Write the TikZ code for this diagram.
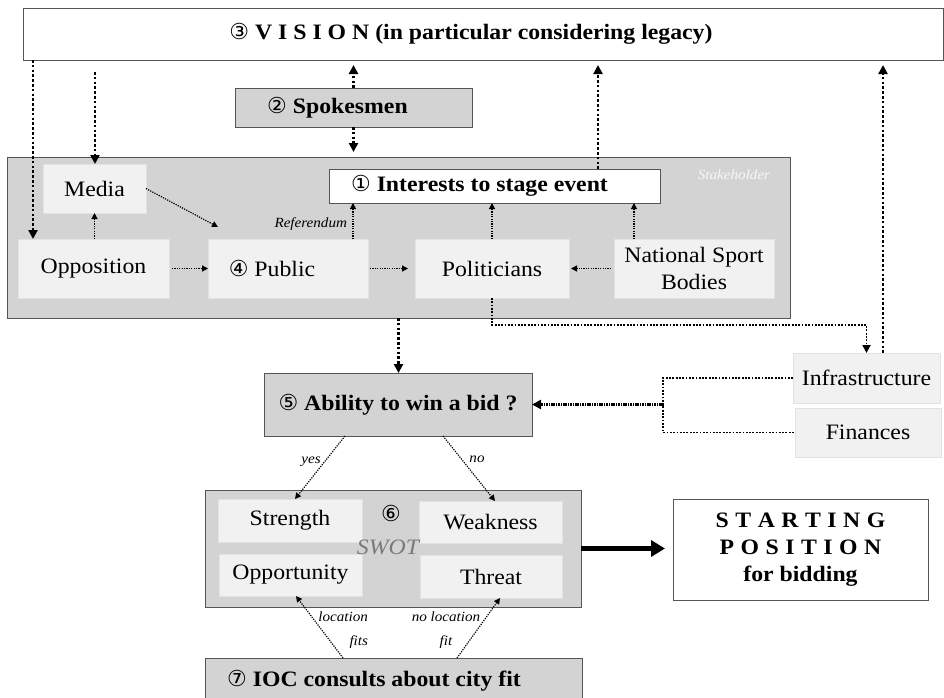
\documentclass[tikz,border=0pt]{standalone}
\usepackage{fontspec}
\setmainfont{Liberation Serif}[FakeStretch=1.08]
\newfontfamily\circfont{DejaVu Sans}
\usetikzlibrary{arrows.meta,calc}
\definecolor{boxgray}{HTML}{D3D3D3}
\definecolor{lightfill}{HTML}{F1F1F1}
\definecolor{edgecol}{HTML}{555555}
\definecolor{lightedge}{HTML}{E2E2E2}
\newcommand\cn[1]{{\circfont\mdseries\fontsize{22}{22}\selectfont #1}}
\newcommand\ls{\hspace{6.5pt}}
\begin{document}
\begin{tikzpicture}[x=1pt,y=-1pt,
  every node/.style={font=\fontsize{22}{27}\selectfont, inner sep=0pt, outer sep=0pt},
  boldtxt/.style={font=\bfseries\fontsize{22}{27}\selectfont},
  smallit/.style={font=\itshape\fontsize{14}{24}\selectfont},
  graybox/.style={draw=edgecol, fill=boxgray, line width=0.9pt},
  whitebox/.style={draw=edgecol, fill=white, line width=0.9pt},
  lightbox/.style={draw=lightedge, fill=lightfill, line width=0.6pt},
  thickdot/.style={line width=2.6pt, dash pattern=on 2.6pt off 2.2pt, -{Triangle[length=9pt,width=9pt]}},
  meddot/.style={line width=1.8pt, dash pattern=on 1.8pt off 1.5pt},
  medarrow/.style={meddot, -{Triangle[length=8pt,width=8pt]}},
  densearrow/.style={line width=2.2pt, dash pattern=on 1.6pt off 0.8pt, -{Triangle[length=9pt,width=9pt]}},
  thindot/.style={line width=1.2pt, dash pattern=on 1.2pt off 1.2pt, -{Triangle[length=6pt,width=6pt]}}
]
\useasboundingbox (0,0) rectangle (944,697);

% top
\node[whitebox, boldtxt, minimum width=920pt, minimum height=52pt] (vision) at (483,34)
  {\cn{③} V I S I O N (in particular considering legacy)\hspace*{24pt}};
\node[graybox, boldtxt, minimum width=237pt, minimum height=39pt] (spk) at (353.5,107.5)
  {\cn{②} Spokesmen\hspace*{32pt}};

% stakeholder
\node[graybox, minimum width=783pt, minimum height=161pt] (stake) at (398.5,237.5) {};
\node[smallit, text=white!85!boxgray] (stklab) at (734,175) {Stakeholder};
\node[lightbox, minimum width=103pt, minimum height=49pt] (media) at (94.5,188.5) {Media};
\node[lightbox, minimum width=151pt, minimum height=59pt] (opp) at (93.5,268.5) {Opposition};
\node[lightbox, minimum width=160pt, minimum height=59pt] (pub) at (288,268.5) {\cn{④} Public\hspace*{32pt}};
\node[lightbox, minimum width=154pt, minimum height=59pt] (pol) at (492,268.5) {Politicians};
\node[lightbox, minimum width=160pt, minimum height=59pt, align=center] (nsb) at (694,268.5) {National Sport\\Bodies};
\node[whitebox, boldtxt, minimum width=331pt, minimum height=34pt] (ints) at (494.5,186)
  {\cn{①} Interests to stage event\hspace*{30pt}};

% ability
\node[graybox, boldtxt, minimum width=268pt, minimum height=63pt] (abil) at (398,404.5) {\cn{⑤}\ Ability to win a bid ?};
\node[lightbox, minimum width=147pt, minimum height=50pt] (infra) at (866.5,378) {Infrastructure};
\node[lightbox, minimum width=146pt, minimum height=49pt] (fin) at (868,432.5) {Finances};

% swot
\node[graybox, minimum width=376pt, minimum height=117pt] (swot) at (393,548.5) {};
\node[lightbox, minimum width=144pt, minimum height=43pt] (str) at (290,520.5) {Strength};
\node[lightbox, minimum width=143pt, minimum height=42pt] (weak) at (490.5,522) {Weakness};
\node[lightbox, minimum width=143pt, minimum height=42pt] (oppt) at (290.5,575) {Opportunity};
\node[lightbox, minimum width=142pt, minimum height=43pt] (thr) at (491,576.5) {Threat};
\node (six) at (391,513) {\cn{⑥}};
\node[font=\itshape\fontsize{22}{27}\selectfont, text=black!52] (swotlab) at (388,547) {SWOT};

\node[whitebox, boldtxt, minimum width=255pt, minimum height=101pt, align=center] (start) at (800.5,549.5)
  {S\ls T\ls A\ls R\ls T\ls I\ls N\ls G\\P\ls O\ls S\ls I\ls T\ls I\ls O\ls N\\for bidding};
\node[graybox, boldtxt, minimum width=377pt, minimum height=46pt] (ioc) at (393.5,681)
  {\cn{⑦}\ IOC consults about city fit\hspace*{39pt}};

% thick dotted connectors
\coordinate (v1) at (33,60);
\draw[thickdot] (v1) -- (v1 |- opp.north);
\coordinate (v2) at (95,72);
\draw[thickdot] (v2) -- (v2 |- media.north);
\draw[thickdot, shorten >=5pt] (spk.north) -- (spk.north |- vision.south);
\draw[thickdot, shorten >=5pt] (spk.south) -- (spk.south |- stake.north);
\coordinate (c3) at ([xshift=103.5pt]ints.north);
\draw[thickdot, shorten >=5pt] (c3) -- (c3 |- vision.south);
\coordinate (c4) at ([xshift=16.5pt]infra.north);
\draw[thickdot, shorten >=5pt] (c4) -- (c4 |- vision.south);
\draw[thickdot] (stake.south) -- (stake.south |- abil.north);

% thin dotted inside stakeholder
\draw[thindot] (opp.north -| media.south) -- (media.south);
\draw[thindot] (media.east) -- ([shift={(10pt,12pt)}]pub.north west);
\draw[thindot, shorten <=3pt] (opp.east) -- (pub.west);
\draw[thindot, shorten <=2pt, shorten >=7pt] (pub.east) -- (pol.west);
\draw[thindot, shorten <=3pt, shorten >=2pt] (nsb.west) -- (pol.east);
\coordinate (c1) at ([xshift=65pt]pub.north);
\draw[thindot] (c1) -- (c1 |- ints.south);
\node[smallit, anchor=east] (refl) at (347,224) {Referendum};
\draw[thindot] (pol.north) -- (pol.north |- ints.south);
\coordinate (c2) at ([xshift=-60pt]nsb.north);
\draw[thindot] (c2) -- (c2 |- ints.south);

% politicians -> infrastructure
\draw[medarrow] (pol.south) -- ++(0,27) -| (infra.north);

% infrastructure / finances -> ability
\coordinate (j) at (663,404.5);
\draw[meddot] (infra.west) -| (j) |- (fin.west);
\draw[densearrow] (j) -- (abil.east);

% yes / no
\draw[thindot] ([xshift=-53pt]abil.south) -- ([xshift=5pt]str.north);
\draw[thindot] ([xshift=45pt]abil.south) -- ([xshift=4.5pt]weak.north);
\node[smallit] (yeslab) at (311,462) {yes};
\node[smallit] (nolab) at (477,459) {no};

% IOC
\draw[thindot] ([xshift=-50.5pt]ioc.north) -- ([xshift=5.5pt]oppt.south);
\draw[thindot] ([xshift=63.5pt]ioc.north) -- ([xshift=9pt]thr.south);
\node[smallit, align=right, anchor=east] (loclab) at (368,630) {location\\fits};
\node[smallit, align=center] (noloclab) at (446,630) {no location\\fit};

% thick arrow
\draw[line width=5pt, -{Triangle[length=14pt,width=16pt]}, shorten >=8pt] (swot.east) -- (swot.east -| start.west);
\end{tikzpicture}
\end{document}
